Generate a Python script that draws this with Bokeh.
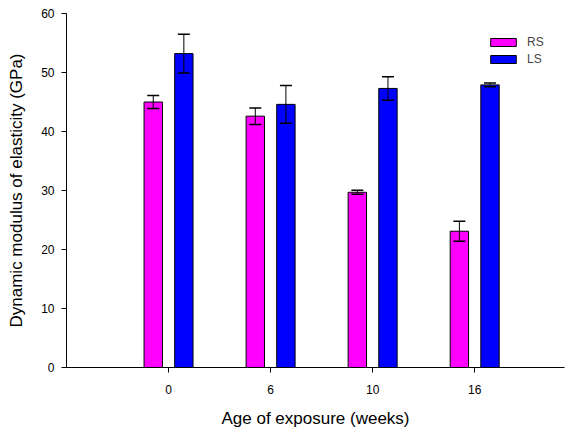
import numpy as np
from bokeh.plotting import figure
from bokeh.models import ColumnDataSource, Whisker, TeeHead, FixedTicker, Range1d, Legend, LegendItem
from bokeh.embed import file_html
from bokeh.resources import INLINE

# Data
weeks = ["0", "6", "10", "16"]
rs_mean = [45.0, 42.6, 29.7, 23.1]
rs_err = [1.1, 1.4, 0.35, 1.7]
ls_mean = [53.2, 44.6, 47.3, 47.9]
ls_err = [3.3, 3.2, 2.0, 0.3]
y_ticks = [0, 10, 20, 30, 40, 50, 60]

FONT = "Liberation Sans"
pos = np.arange(1, len(weeks) + 1)
off = 0.15
bw = 0.18

rs_src = ColumnDataSource(dict(x=pos - off, top=rs_mean,
                               upper=np.array(rs_mean) + np.array(rs_err),
                               lower=np.array(rs_mean) - np.array(rs_err)))
ls_src = ColumnDataSource(dict(x=pos + off, top=ls_mean,
                               upper=np.array(ls_mean) + np.array(ls_err),
                               lower=np.array(ls_mean) - np.array(ls_err)))

p = figure(width=566, height=430, output_backend="svg", toolbar_location=None,
           x_range=Range1d(0, 4.88), y_range=Range1d(0, 60),
           min_border_left=66, min_border_right=2, min_border_top=13, min_border_bottom=62)
p.outline_line_color = None
p.xgrid.visible = False
p.ygrid.visible = False
p.background_fill_color = "white"
p.border_fill_color = "white"

r_rs = p.vbar(x="x", top="top", width=bw, source=rs_src, fill_color="#FF00FF", line_color="black", line_width=1)
r_ls = p.vbar(x="x", top="top", width=bw, source=ls_src, fill_color="#0000FF", line_color="black", line_width=1)

for src in (rs_src, ls_src):
    w = Whisker(source=src, base="x", upper="upper", lower="lower",
                line_color="black", line_width=1, level="overlay",
                upper_head=TeeHead(size=12, line_color="black", line_width=1.5),
                lower_head=TeeHead(size=12, line_color="black", line_width=1.5))
    p.add_layout(w)

# axes
p.xaxis.ticker = FixedTicker(ticks=list(pos))
p.xaxis.major_label_overrides = {int(k): v for k, v in zip(pos, weeks)}
p.yaxis.ticker = FixedTicker(ticks=y_ticks)
for ax in (p.xaxis, p.yaxis):
    ax.axis_line_color = "black"
    ax.major_tick_line_color = "black"
    ax.major_tick_out = 5
    ax.major_tick_in = 0
    ax.minor_tick_line_color = None
    ax.major_label_text_font = FONT
    ax.major_label_text_font_size = "12px"
    ax.major_label_text_color = "black"
    ax.axis_label_text_font = FONT
    ax.axis_label_text_font_style = "normal"
    ax.axis_label_text_color = "black"
p.xaxis.axis_label = "Age of exposure (weeks)"
p.yaxis.axis_label = "Dynamic modulus of elasticity (GPa)"
p.xaxis.axis_label_text_font_size = "17px"
p.yaxis.axis_label_text_font_size = "17px"
p.xaxis.major_label_standoff = 12
p.yaxis.major_label_standoff = 7
p.xaxis.axis_label_standoff = 12
p.yaxis.axis_label_standoff = 12

legend = Legend(items=[LegendItem(label="RS", renderers=[r_rs]),
                       LegendItem(label="LS", renderers=[r_ls])],
                location=(421, 301), orientation="vertical",
                glyph_width=32, glyph_height=10, label_height=10,
                label_standoff=8, spacing=3, padding=0, margin=0,
                border_line_color=None, background_fill_alpha=0,
                label_text_font=FONT, label_text_font_size="12px")
p.add_layout(legend)

open("out.html", "w").write(file_html(p, INLINE))
